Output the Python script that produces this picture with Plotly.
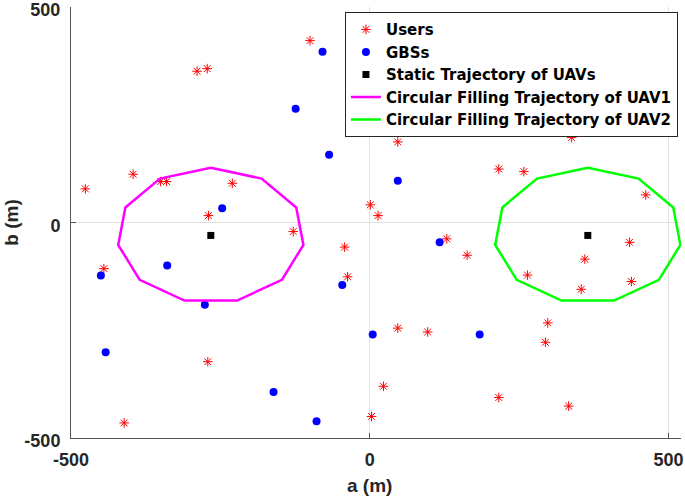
import plotly.graph_objects as go

# ---- data ----
users_x = [-476, -100, -289, -272, -396, -350, -340, -230, -270, -128, -445,
           47, 338, 216, 258, 462, 1, 14, 129, -42, 163, -37, 435, 360, 264,
           438, 354, -271, -411, 3, 23, 47, 97, 216, 298, 294, 333]
users_y = [78, 422, 351, 357, 112, 95, 95, 91, 16, -21, -107,
           187, 197, 124, 118, 64, 41, 16, -38, -57, -76, -126, -46, -85, -122,
           -137, -155, -323, -465, -450, -380, -245, -254, -406, -233, -278, -426]

gbs_x = [-79, -124, -68, 170, 47, -247, -339, -450, -276, 117, -46, -442, -161, -89, 5, 184]
gbs_y = [396, 264, 157, 212, 97, 33, -100, -123, -191, -46, -145, -301, -393, -461, -260, -260]

uav_x = [-266, 365]
uav_y = [-30, -30]

traj1_x = [-266, -181, -123, -111, -147, -222, -310, -385, -421, -409, -351, -266]
traj1_y = [127, 102, 35, -52, -133, -181, -181, -133, -52, 35, 102, 127]

traj2_x = [365, 450, 508, 520, 484, 409, 321, 246, 210, 222, 280, 365]
traj2_y = [127, 102, 35, -52, -133, -181, -181, -133, -52, 35, 102, 127]

tick_vals = [-500, 0, 500]
tick_text = ["-500", "0", "500"]

FONT = "Liberation Sans, Arial, sans-serif"
LEGEND_FONT = "DejaVu Sans, Liberation Sans, Arial, sans-serif"
TXT = "#262626"

fig = go.Figure()
fig.add_trace(go.Scatter(x=users_x, y=users_y, mode="markers", name="Users",
                         marker=dict(symbol="asterisk-open", size=8, color="#ff0000",
                                     line=dict(color="#ff0000", width=1))))
fig.add_trace(go.Scatter(x=gbs_x, y=gbs_y, mode="markers", name="GBSs",
                         marker=dict(symbol="circle", size=8, color="#0000ff")))
fig.add_trace(go.Scatter(x=uav_x, y=uav_y, mode="markers", name="Static Trajectory of UAVs",
                         marker=dict(symbol="square", size=7, color="#000000")))
fig.add_trace(go.Scatter(x=traj1_x, y=traj1_y, mode="lines",
                         name="Circular Filling Trajectory of UAV1",
                         line=dict(color="#ff00ff", width=2.5)))
fig.add_trace(go.Scatter(x=traj2_x, y=traj2_y, mode="lines",
                         name="Circular Filling Trajectory of UAV2",
                         line=dict(color="#00ff00", width=2.5)))

axis_common = dict(
    tickvals=tick_vals, ticktext=tick_text,
    showgrid=True, gridcolor="#e2e2e2", gridwidth=1,
    zeroline=False, showline=True, linecolor="#555555", linewidth=1,
    ticks="inside", ticklen=5, tickcolor="#555555",
    tickfont=dict(family=FONT, size=18, color=TXT, weight="bold"),
    mirror=False, automargin=False, ticklabeloverflow="allow",
)

fig.update_layout(
    width=685, height=498,
    margin=dict(l=71, r=4, t=7, b=60, autoexpand=False),
    paper_bgcolor="white", plot_bgcolor="white",
    showlegend=True,
    xaxis=dict(range=[-500, 521], ticklabelstandoff=5, **axis_common),
    yaxis=dict(range=[-500, 500], ticklabelstandoff=6, ticklabelshift=3, **axis_common),
    legend=dict(x=0.995, y=0.988, xanchor="right", yanchor="top",
                bgcolor="white", bordercolor="#262626", borderwidth=1,
                font=dict(family=LEGEND_FONT, size=15, color="#000000", weight="bold"),
                tracegroupgap=0, itemwidth=30),
    annotations=[
        dict(text="a (m)", xref="paper", yref="paper", x=0.49, y=-0.111,
             xanchor="center", yanchor="middle", showarrow=False,
             font=dict(family=FONT, size=19, color=TXT, weight="bold")),
        dict(text="b (m)", xref="paper", yref="paper", x=-0.098, y=0.5,
             xanchor="center", yanchor="middle", showarrow=False, textangle=-90,
             font=dict(family=FONT, size=19, color=TXT, weight="bold")),
    ],
)

fig.write_html("out.html", config={"displayModeBar": False},
               post_script="document.body.style.margin='0';")
